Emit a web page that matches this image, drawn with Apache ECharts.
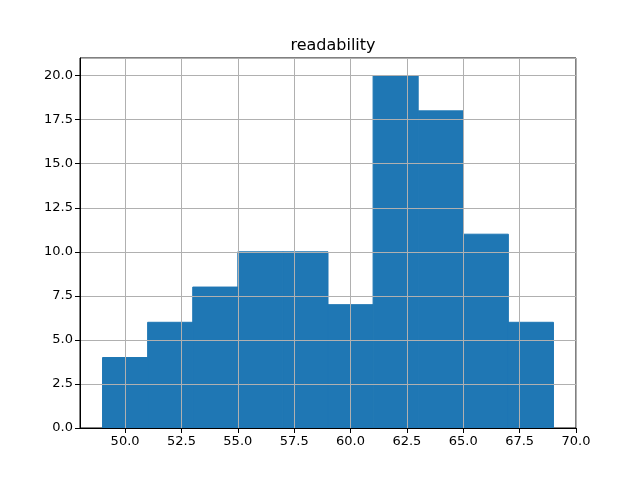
<!DOCTYPE html>
<html>
<head>
<meta charset="utf-8">
<script src="https://cdn.jsdelivr.net/npm/echarts@6/dist/echarts.min.js"></script>
<style>html,body{margin:0;padding:0;background:#fff;}#c{width:640px;height:480px;}</style>
</head>
<body>
<div id="c"></div>
<script>
const binEdges = [49, 51, 53, 55, 57, 59, 61, 63, 65, 67, 69];
const counts = [4, 6, 8, 10, 10, 7, 20, 18, 11, 6];
const xTicks = [50, 52.5, 55, 57.5, 60, 62.5, 65, 67.5, 70];
const title = 'readability';

const data = counts.map((c, i) => [binEdges[i], binEdges[i + 1], c]);
const chart = echarts.init(document.getElementById('c'), null, {renderer: 'canvas'});
const font = 'DejaVu Sans';
chart.setOption({
  animation: false,
  title: {text: title, left: 328, top: 33, textAlign: 'center',
    textStyle: {fontFamily: font, fontSize: 16, fontWeight: 'normal', color: '#000'}},
  grid: {left: 80, right: 64, top: 58, bottom: 52, show: true, borderColor: '#000', borderWidth: 1, backgroundColor: 'transparent'},
  xAxis: {
    type: 'value', min: 48, max: 70, z: 10,
    axisLine: {lineStyle: {color: '#000', width: 1}},
    axisTick: {show: true, length: 5, customValues: xTicks, lineStyle: {color: '#000'}},
    axisLabel: {customValues: xTicks, color: '#000', fontFamily: font, fontSize: 13, margin: 7,
      formatter: v => v.toFixed(1)},
    splitLine: {show: true, lineStyle: {color: '#b0b0b0', width: 1}}
  },
  yAxis: {
    type: 'value', min: 0, max: 21, interval: 2.5, z: 10,
    axisLine: {show: true, lineStyle: {color: '#000', width: 1}},
    axisTick: {show: true, length: 5, lineStyle: {color: '#000'}},
    axisLabel: {color: '#000', fontFamily: font, fontSize: 13, margin: 7,
      formatter: v => v.toFixed(1), showMaxLabel: false},
    splitLine: {show: true, lineStyle: {color: '#b0b0b0', width: 1}}
  },
  series: [{
    type: 'custom', z: 2,
    data: data,
    encode: {x: [0, 1], y: 2},
    renderItem: function (params, api) {
      const p0 = api.coord([api.value(0), api.value(2)]);
      const p1 = api.coord([api.value(1), 0]);
      return {type: 'rect', shape: {x: p0[0], y: p0[1], width: p1[0] - p0[0], height: p1[1] - p0[1]},
        style: {fill: '#1f77b4', stroke: '#1f77b4', lineWidth: 1}};
    }
  }]
});
</script>
</body>
</html>
